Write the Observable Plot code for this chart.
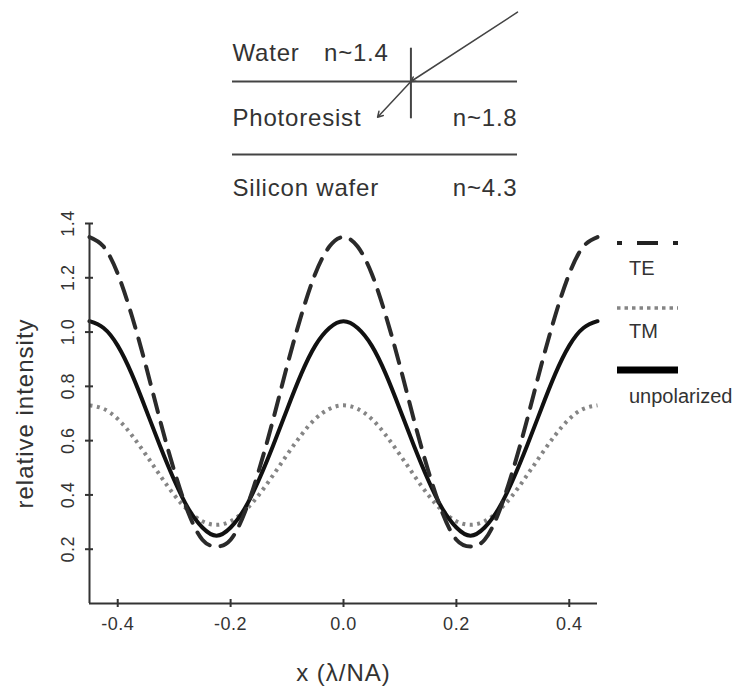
<!DOCTYPE html>
<html>
<head>
<meta charset="utf-8">
<script src="https://cdn.jsdelivr.net/npm/d3@7"></script>
<script src="https://cdn.jsdelivr.net/npm/@observablehq/plot@0.6"></script>
<style>
  html, body { margin: 0; padding: 0; background: #fff; }
  #wrap { position: relative; width: 741px; height: 691px; overflow: hidden; background: #fff;
          font-family: "Liberation Sans", Arial, Helvetica, sans-serif; }
  #diagram { position: absolute; left: 0; top: 0; }
  #chart { position: absolute; left: 0; top: 210px; }
  #legend { position: absolute; left: 0; top: 0; }
</style>
</head>
<body>
<div id="wrap">
  <div id="diagram"></div>
  <div id="chart"></div>
  <svg id="legend" width="741" height="691"></svg>
</div>
<script>
// ---------- data ----------
const xValues = [-0.45, -0.425, -0.4, -0.375, -0.35, -0.325, -0.3, -0.275, -0.25, -0.225,
  -0.2, -0.175, -0.15, -0.125, -0.1, -0.075, -0.05, -0.025, 0,
  0.025, 0.05, 0.075, 0.1, 0.125, 0.15, 0.175, 0.2, 0.225,
  0.25, 0.275, 0.3, 0.325, 0.35, 0.375, 0.4, 0.425, 0.45];
const teValues = [1.35, 1.315, 1.215, 1.06, 0.875, 0.675, 0.49, 0.335, 0.235, 0.21,
  0.235, 0.335, 0.49, 0.675, 0.875, 1.06, 1.215, 1.315, 1.35,
  1.315, 1.215, 1.06, 0.875, 0.675, 0.49, 0.335, 0.235, 0.21,
  0.235, 0.335, 0.49, 0.675, 0.875, 1.06, 1.215, 1.315, 1.35];
const tmValues = [0.73, 0.717, 0.68, 0.62, 0.548, 0.472, 0.40, 0.342, 0.303, 0.29,
  0.303, 0.342, 0.40, 0.472, 0.548, 0.62, 0.68, 0.717, 0.73,
  0.717, 0.68, 0.62, 0.548, 0.472, 0.40, 0.342, 0.303, 0.29,
  0.303, 0.342, 0.40, 0.472, 0.548, 0.62, 0.68, 0.717, 0.73];
const unpolarizedValues = [1.04, 1.015, 0.95, 0.845, 0.715, 0.58, 0.455, 0.35, 0.28, 0.25,
  0.28, 0.35, 0.455, 0.58, 0.715, 0.845, 0.95, 1.015, 1.04,
  1.015, 0.95, 0.845, 0.715, 0.58, 0.455, 0.35, 0.28, 0.25,
  0.28, 0.35, 0.455, 0.58, 0.715, 0.845, 0.95, 1.015, 1.04];
const seriesNames = ["TE", "TM", "unpolarized"];
const xTicks = [-0.4, -0.2, 0.0, 0.2, 0.4];
const xTickLabels = ["-0.4", "-0.2", "0.0", "0.2", "0.4"];
const yTicks = [0.2, 0.4, 0.6, 0.8, 1.0, 1.2, 1.4];
const yTickLabels = ["0.2", "0.4", "0.6", "0.8", "1.0", "1.2", "1.4"];
const xLabel = "x (λ/NA)";
const yLabel = "relative intensity";
const layerNames = ["Water", "Photoresist", "Silicon wafer"];
const layerIndices = ["n~1.4", "n~1.8", "n~4.3"];

const FONT = "Liberation Sans, Arial, Helvetica, sans-serif";
const INK = "#333";

// ---------- top diagram ----------
const layerTextY = [0.616, 1.507, 2.466];
const diagram = Plot.plot({
  width: 741, height: 210, margin: 0,
  x: {domain: [0, 1], range: [232, 517], axis: null},
  y: {domain: [0, 2], range: [8, 154], axis: null},
  style: {fontFamily: FONT, background: "transparent", overflow: "visible"},
  marks: [
    Plot.ruleY([1, 2], {x1: 0, x2: 1, stroke: "#444", strokeWidth: 2}),
    Plot.ruleX([0.626], {y1: 0.544, y2: 1.511, stroke: "#444", strokeWidth: 2}),
    Plot.arrow([{a: 1, b: 0.05, c: 0.626, d: 1}], {x1: "a", y1: "b", x2: "c", y2: "d",
      stroke: "#444", strokeWidth: 1.5, headLength: 5}),
    Plot.arrow([{a: 0.626, b: 1, c: 0.509, d: 1.489}], {x1: "a", y1: "b", x2: "c", y2: "d",
      stroke: "#444", strokeWidth: 1.5, headLength: 6}),
    Plot.text(layerNames, {x: 0, y: (d, i) => layerTextY[i], text: d => d, textAnchor: "start",
      fontSize: 24, fill: INK}),
    Plot.text([layerIndices[0]], {x: 0.321, y: layerTextY[0], text: d => d, textAnchor: "start",
      fontSize: 24, fill: INK}),
    Plot.text(layerIndices.slice(1), {x: 1, y: (d, i) => layerTextY[i + 1], text: d => d, textAnchor: "end",
      fontSize: 24, fill: INK})
  ]
});
diagram.querySelectorAll("text").forEach(t => t.setAttribute("letter-spacing", "0.8"));
document.getElementById("diagram").appendChild(diagram);

// ---------- main chart ----------
const frameW = 741 - 89 - 144;
const frameH = 481 - 13 - 88;
const chart = Plot.plot({
  width: 741, height: 481,
  marginTop: 13, marginBottom: 88, marginLeft: 89, marginRight: 144,
  x: {domain: [-0.45, 0.45], axis: null},
  y: {domain: [0, 1.4], axis: null},
  style: {fontFamily: FONT, background: "transparent", overflow: "visible"},
  marks: [
    Plot.line(xValues, {x: d => d, y: (d, i) => tmValues[i], curve: "natural",
      stroke: "#858585", strokeWidth: 4, strokeDasharray: "3,4.5", strokeLinecap: "butt"}),
    Plot.line(xValues, {x: d => d, y: (d, i) => unpolarizedValues[i], curve: "natural",
      stroke: "#111", strokeWidth: 4}),
    Plot.line(xValues, {x: d => d, y: (d, i) => teValues[i], curve: "natural",
      stroke: "#2a2a2a", strokeWidth: 4, strokeDasharray: "18,11"}),
    // axis lines
    Plot.ruleX([-0.45], {stroke: INK, strokeWidth: 2}),
    Plot.ruleY([0], {stroke: INK, strokeWidth: 2}),
    // tick marks straddling the axes
    Plot.tickX(xTicks, {x: d => d, insetTop: frameH - 4, insetBottom: -4, stroke: INK, strokeWidth: 2}),
    Plot.tickY(yTicks, {y: d => d, insetLeft: -4, insetRight: frameW - 4, stroke: INK, strokeWidth: 2}),
    // tick labels
    Plot.text(xTicks, {x: d => d, frameAnchor: "bottom", dy: 21, text: (d, i) => xTickLabels[i],
      fontSize: 18, fill: INK, lineAnchor: "middle"}),
    Plot.text(yTicks, {y: d => d, frameAnchor: "left", dx: -21, rotate: -90, text: (d, i) => yTickLabels[i],
      fontSize: 18, fill: INK, lineAnchor: "middle", textAnchor: "middle"}),
    // axis titles
    Plot.text([xLabel], {frameAnchor: "bottom", dy: 70, text: d => d, fontSize: 24, fill: INK,
      lineAnchor: "middle"}),
    Plot.text([yLabel], {frameAnchor: "left", dx: -64, rotate: -90, text: d => d, fontSize: 24, fill: INK,
      lineAnchor: "middle", textAnchor: "middle"})
  ]
});
chart.querySelectorAll("text").forEach(t => {
  const fs = parseFloat(t.getAttribute("font-size") || t.parentNode.getAttribute("font-size") || "0");
  t.setAttribute("letter-spacing", fs >= 24 ? "1" : "0.5");
});
document.getElementById("chart").appendChild(chart);

// ---------- legend ----------
const legend = d3.select("#legend");
const legendStyles = [
  {stroke: "#222", width: 4, dash: "5,15,21,15,5", y: 243, ty: 268},
  {stroke: "#858585", width: 3.5, dash: "3.5,4", y: 308, ty: 331},
  {stroke: "#000", width: 7, dash: null, y: 370, ty: 396}
];
seriesNames.forEach((name, i) => {
  const s = legendStyles[i];
  legend.append("line")
    .attr("x1", 617).attr("x2", 678).attr("y1", s.y).attr("y2", s.y)
    .attr("stroke", s.stroke).attr("stroke-width", s.width)
    .attr("stroke-dasharray", s.dash);
  legend.append("text")
    .attr("x", 629).attr("y", s.ty).attr("dy", "0.35em")
    .attr("font-family", FONT).attr("font-size", 20).attr("fill", INK)
    .text(name);
});
</script>
</body>
</html>
